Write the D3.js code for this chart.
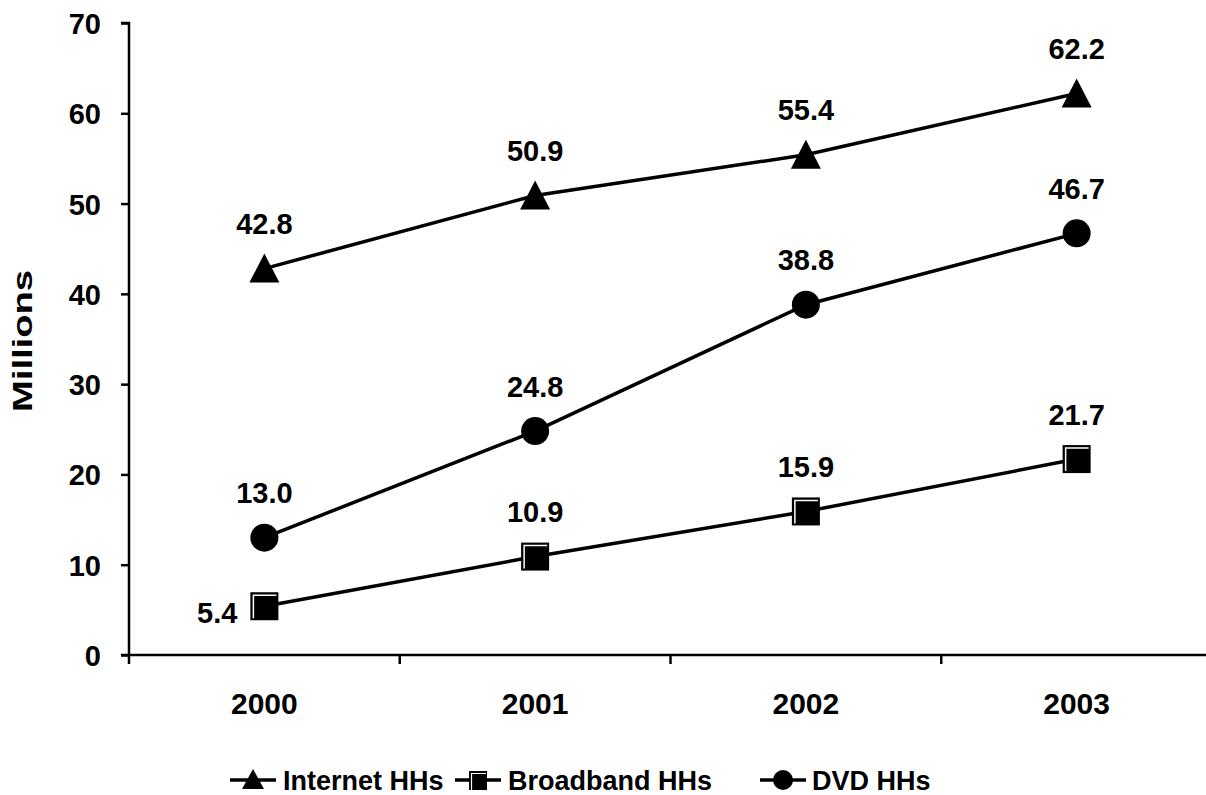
<!DOCTYPE html>
<html><head><meta charset="utf-8">
<script src="https://cdn.jsdelivr.net/npm/d3@7"></script>
<style>body{margin:0;background:#fff}svg text{font-family:Arial,"Liberation Sans",sans-serif;font-weight:bold;fill:#000}</style>
</head><body>
<svg id="c" width="1206" height="795"></svg>
<script>
const years = ["2000","2001","2002","2003"];
const internet = [42.8, 50.9, 55.4, 62.2];
const broadband = [5.4, 10.9, 15.9, 21.7];
const dvd = [13.0, 24.8, 38.8, 46.7];
const yTicks = [0,10,20,30,40,50,60,70];
const seriesNames = ["Internet HHs","Broadband HHs","DVD HHs"];

const svg = d3.select("#c");
const x = d3.scaleBand().domain(years).range([129, 1212]);
const y = d3.scaleLinear().domain([0,70]).range([655, 23]);

// y axis
const ya = svg.append("g").attr("transform","translate(129,0)")
  .call(d3.axisLeft(y).tickValues(yTicks).tickSize(8).tickPadding(20).tickFormat(d3.format("d")));
ya.select(".domain").attr("stroke","#000").attr("stroke-width",2.5).attr("d","M-8,"+y(70)+"H0V"+y(0));
ya.selectAll(".tick line").attr("stroke","#000").attr("stroke-width",2.5);
ya.selectAll(".tick text").attr("font-size",29).attr("dy","0.36em");

// x axis
const xa = svg.append("g").attr("transform","translate(0,655)");
xa.append("line").attr("x1",121).attr("x2",1212).attr("y1",0).attr("y2",0).attr("stroke","#000").attr("stroke-width",2.5);
const bounds = years.map(d=>x(d)).concat([x.range()[1]]);
xa.selectAll("line.t").data(bounds).enter().append("line").attr("class","t")
  .attr("x1",d=>d).attr("x2",d=>d).attr("y1",0).attr("y2",9).attr("stroke","#000").attr("stroke-width",2.5);
xa.selectAll("text").data(years).enter().append("text")
  .attr("x",d=>x(d)+x.bandwidth()/2).attr("y",48).attr("dy","0.36em").attr("text-anchor","middle").attr("font-size",30).text(d=>d);

// y label
svg.append("text").attr("transform","translate(32,341) rotate(-90)").attr("text-anchor","middle")
  .attr("font-size",27).attr("textLength",142).attr("lengthAdjust","spacingAndGlyphs").text("Millions");

const cx = d => x(d)+x.bandwidth()/2;
const line = d3.line().x((d,i)=>cx(years[i])).y(d=>y(d));

function triangle(g, px, py, s){
  g.append("path").attr("d",`M${px},${py-15*s}L${px+15*s},${py+14*s}L${px-15*s},${py+14*s}Z`).attr("fill","#000");
}
function square(g, px, py, s){
  const h = 14*s;
  g.append("rect").attr("x",px-h).attr("y",py-h).attr("width",2*h).attr("height",2*h).attr("fill","#000");
  g.append("path").attr("d",`M${px-h+3},${py+h-2}V${py-h+3}H${px+h-2}`).attr("fill","none").attr("stroke","#fff").attr("stroke-width",1.5);
}
function circle(g, px, py, s){
  g.append("circle").attr("cx",px).attr("cy",py).attr("r",14*s).attr("fill","#000");
}

const series = [
  {name:seriesNames[0], vals:internet, mk:triangle},
  {name:seriesNames[1], vals:broadband, mk:square},
  {name:seriesNames[2], vals:dvd, mk:circle}
];
series.forEach(s=>{
  const g = svg.append("g");
  g.append("path").attr("d",line(s.vals)).attr("fill","none").attr("stroke","#000").attr("stroke-width",3.5);
  s.vals.forEach((v,i)=>s.mk(g, cx(years[i]), y(v), 1));
  s.vals.forEach((v,i)=>{
    const left = (s.vals===broadband && i===0);
    g.append("text")
      .attr("x", left ? cx(years[i])-27 : cx(years[i]))
      .attr("y", left ? y(v)+6 : y(v)-45)
      .attr("dy","0.36em")
      .attr("text-anchor", left ? "end" : "middle")
      .attr("font-size",29).text(v.toFixed(1));
  });
});

// legend
const leg = svg.append("g").attr("transform","translate(0,780)");
const lx = [230, 455, 760];
const tx = [283, 508, 812];
series.forEach((s,i)=>{
  const g = leg.append("g");
  g.append("line").attr("x1",lx[i]).attr("x2",lx[i]+46).attr("y1",0).attr("y2",0).attr("stroke","#000").attr("stroke-width",3.5);
  const mx = lx[i]+23;
  if(i===0) g.append("path").attr("d",`M${mx},-11L${mx+11},9L${mx-11},9Z`).attr("fill","#000");
  if(i===1){ g.append("rect").attr("x",mx-9).attr("y",-9).attr("width",18).attr("height",19).attr("fill","#000");
    g.append("path").attr("d",`M${mx-6.5},10V-6.5H${mx+8}`).attr("fill","none").attr("stroke","#fff").attr("stroke-width",1.2);}
  if(i===2) g.append("circle").attr("cx",mx).attr("cy",0).attr("r",10).attr("fill","#000");
  g.append("text").attr("x",tx[i]).attr("y",0).attr("dy","0.36em").attr("font-size",27).text(s.name);
});
</script>
</body></html>
